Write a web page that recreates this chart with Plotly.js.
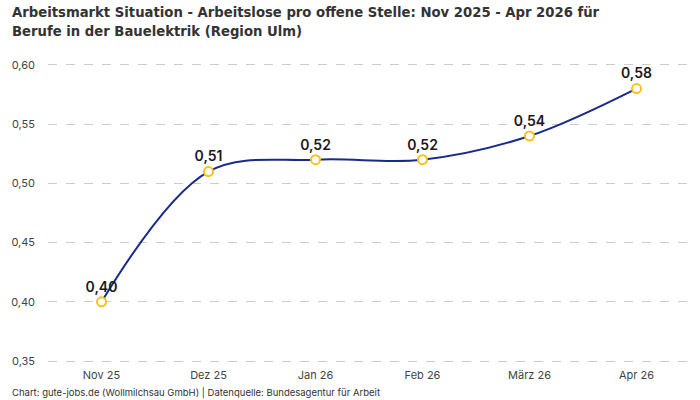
<!DOCTYPE html>
<html><head><meta charset="utf-8">
<script src="https://cdn.plot.ly/plotly-3.0.1.min.js"></script>
<style>body{margin:0;padding:0;background:#fff}#chart{width:700px;height:400px}</style>
</head><body><div id="chart"></div>
<script>
var categories = ["Nov 25", "Dez 25", "Jan 26", "Feb 26", "März 26", "Apr 26"];
var values = [0.40, 0.51, 0.52, 0.52, 0.54, 0.58];
var yTickVals = [0.35, 0.40, 0.45, 0.50, 0.55, 0.60];
var yTickText = ["0,35", "0,40", "0,45", "0,50", "0,55", "0,60"];
var labels = values.map(function(v){ return v.toFixed(2).replace(".", ","); });

var trace = {
  x: categories, y: values, type: "scatter", mode: "lines+markers+text",
  line: {color: "#1a2a8c", width: 2, shape: "spline", smoothing: 1},
  marker: {size: 9, color: "#ffffff", line: {color: "#f7c31a", width: 2}},
  text: labels, textposition: "top center",
  textfont: {family: "Inter, Roboto, sans-serif", size: 14, color: "#1a1a1a", weight: 600},
  cliponaxis: false, hoverinfo: "skip"
};
var layout = {
  width: 700, height: 400,
  margin: {l: 48, r: 10, t: 59, b: 33},
  paper_bgcolor: "#fff", plot_bgcolor: "#fff",
  xaxis: {
    type: "category", range: [-0.5, 5.5], showgrid: false, zeroline: false, showline: false,
    ticks: "", tickfont: {family: "Inter, Roboto, sans-serif", size: 11, color: "#444"}
  },
  yaxis: {
    range: [0.345, 0.605], tickvals: yTickVals, ticktext: yTickText,
    showgrid: true, gridcolor: "#cccccc", griddash: "dash", gridwidth: 1,
    zeroline: false, showline: false, ticks: "", ticklabelstandoff: 12,
    tickfont: {family: "Inter, Roboto, sans-serif", size: 11, color: "#444"}
  },
  showlegend: false,
  annotations: [{
    text: "<b>Arbeitsmarkt Situation - Arbeitslose pro offene Stelle: Nov 2025 - Apr 2026 für<br>Berufe in der Bauelektrik (Region Ulm)</b>",
    xref: "paper", yref: "paper", x: -0.0592, y: 1.187, xanchor: "left", yanchor: "top", align: "left",
    showarrow: false,
    font: {family: "DejaVu Sans Condensed, Liberation Sans Narrow, sans-serif", size: 14.7, color: "#333"}
  }, {
    text: "Chart: gute-jobs.de (Wollmilchsau GmbH) | Datenquelle: Bundesagentur für Arbeit",
    xref: "paper", yref: "paper", x: -0.059, y: -0.085, xanchor: "left", yanchor: "middle",
    showarrow: false, font: {family: "Inter, Roboto, sans-serif", size: 9.5, color: "#333"}
  }]
};
Plotly.newPlot("chart", [trace], layout, {displayModeBar: false, staticPlot: true});
</script></body></html>
